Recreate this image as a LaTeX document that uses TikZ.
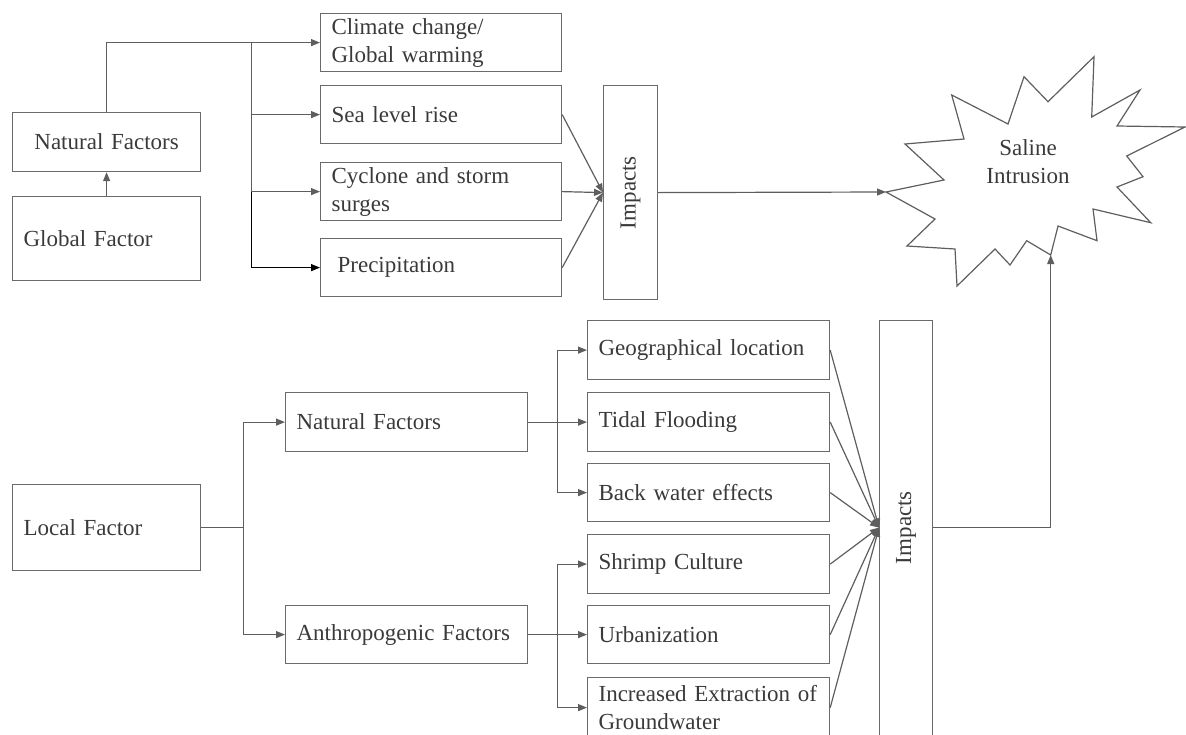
\documentclass[tikz,border=0pt]{standalone}
\usepackage{fontspec}
\setmainfont{Liberation Serif}
\usepackage{xcolor}
\usepackage{tikz}
\usetikzlibrary{arrows.meta}

\definecolor{boxgray}{HTML}{6A6A6A}
\definecolor{linegray}{HTML}{5E5E5E}
\definecolor{txtgray}{HTML}{3A3A3A}

\begin{document}
\begin{tikzpicture}[x=0.5pt, y=-0.5pt,
		fbox/.style={draw=boxgray, line width=0.6pt, anchor=north west, align=left,
			inner xsep=5.5pt, inner ysep=0pt, text=txtgray},
		impbox/.style={draw=boxgray, line width=0.6pt, anchor=north west, inner sep=0pt},
		txt/.style={text=txtgray, inner sep=0pt},
		ln/.style={draw=linegray, line width=0.6pt},
		arr/.style={ln, -{Triangle[length=4.5pt,width=3.5pt]}},
		font={\fontsize{11.5pt}{14pt}\selectfont}]
		\useasboundingbox (0,0) rectangle (1186,734);
		
		% global part
		\node[fbox, align=center, text width=83pt, minimum height=29.5pt] (nat1) at (12,112) {Natural Factors};
		\node[fbox, text width=83pt, minimum height=42pt] (glob) at (12,196) {Global Factor};
		\node[fbox, text width=109.5pt, minimum height=29pt] (clim) at (320,13) {Climate change/\\Global warming};
		\node[fbox, text width=109.5pt, minimum height=29pt] (sea) at (320,85) {Sea level rise};
		\node[fbox, text width=109.5pt, minimum height=29pt] (cyc) at (320,162) {Cyclone and storm\\surges};
		\node[fbox, inner xsep=8.5pt, text width=103.5pt, minimum height=29pt] (prec) at (320,238) {Precipitation};
		\node[impbox, minimum width=27pt, minimum height=107pt] (imp1) at (603,85) {};
		\node[txt, rotate=90] at (imp1) {Impacts};
		
		% local part
		\node[fbox, text width=83pt, minimum height=43pt] (loc) at (12,484) {Local Factor};
		\node[fbox, text width=110pt, minimum height=29.5pt] (nat2) at (285,392) {Natural Factors};
		\node[fbox, text width=110pt, minimum height=29pt] (anth) at (285,605) {Anthropogenic Factors};
		\node[fbox, text width=110pt, minimum height=29.5pt] (geo) at (587,320) {Geographical location};
		\node[fbox, text width=110pt, minimum height=29.5pt] (tid) at (587,392) {Tidal Flooding};
		\node[fbox, text width=110pt, minimum height=29pt] (back) at (587,463) {Back water effects};
		\node[fbox, text width=110pt, minimum height=29.5pt] (shr) at (587,534) {Shrimp Culture};
		\node[fbox, text width=110pt, minimum height=29pt] (urb) at (587,605) {Urbanization};
		\node[fbox, text width=110pt, minimum height=30pt] (ext) at (587,677) {Increased Extraction of\\Groundwater};
		\node[impbox, minimum width=26.5pt, minimum height=209pt] (imp2) at (879,320) {};
		
		% saline intrusion
		\coordinate (saltip) at (886,192);
		\coordinate (salbot) at (1050.7,255);
		\draw[ln, line join=miter] (saltip) -- (944,180) -- (905,144) -- (964,139) -- (951.7,95)
			-- (1008,124) -- (1024,76.7) -- (1048,101.7) -- (1094,56.7) -- (1091.7,117)
			-- (1140,90) -- (1117,126) -- (1185,127) -- (1126.7,156) -- (1143,176.7)
			-- (1117,187) -- (1150.7,222.7) -- (1093,209) -- (1097,240.7) -- (1058,226)
			-- (salbot) -- (1026.7,240.7) -- (1010,265) -- (995,249) -- (957,286)
			-- (955,249) -- (907,246) -- (935,219) -- cycle;
		\node[txt, align=center] (sal) at (1028,162) {Saline\\Intrusion};
		
		% connectors, global
		\draw[arr] (glob) -- (nat1);
		\draw[arr] (nat1.north) |- (clim.west);
		\coordinate (bx1) at (251.5,42);
		\draw[arr] (bx1) |- (sea.west);
		\draw[arr] (bx1) |- (cyc.west);
		\draw[arr, draw=black] (bx1 |- cyc.west) |- (prec.west);
		\coordinate (hub1) at (imp1.west);
		\foreach \b in {sea,cyc,prec}
			\draw[arr] (\b.east) -- (hub1);
		\draw[arr] (imp1.east) -- (saltip);
		
		% connectors, local
		\draw[ln] (loc.east) -- ++(42.5,0) coordinate (bx2);
		\draw[arr] (bx2) |- (nat2.west);
		\draw[arr] (bx2) |- (anth.west);
		\draw[arr] (nat2.east) -- (tid.west);
		\path (nat2.east) ++(29.5,0) coordinate (bx3);
		\draw[arr] (bx3) |- (geo.west);
		\draw[arr] (bx3) |- (back.west);
		\draw[arr] (anth.east) -- (urb.west);
		\path (anth.east) ++(29.5,0) coordinate (bx4);
		\draw[arr] (bx4) |- (shr.west);
		\draw[arr] (bx4) |- (ext.west);
		\coordinate (hub2) at (imp2.west |- loc.east);
		\foreach \b in {geo,tid,back,shr,urb,ext}
			\draw[arr] (\b.east) -- (hub2);
		\node[txt, rotate=90] at (imp2 |- hub2) {Impacts};
		\draw[arr] (imp2.east |- hub2) -| (salbot);
	\end{tikzpicture}
\end{document}
